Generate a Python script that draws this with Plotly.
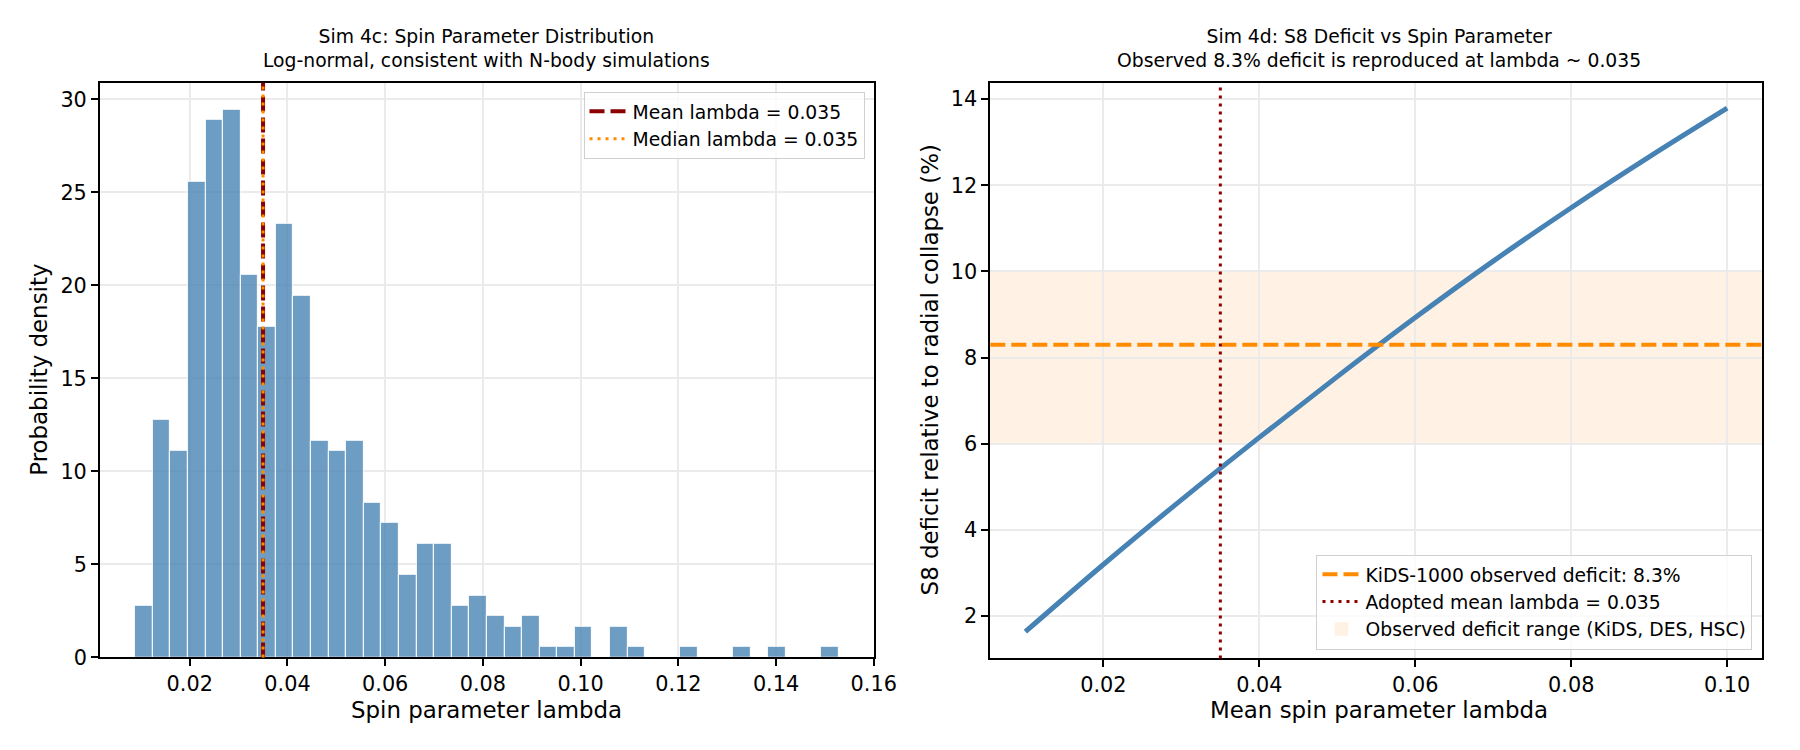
import plotly.graph_objects as go

# --- left panel: histogram of spin parameter (bin centres + density)
bin_centers = [0.0106, 0.0142, 0.0178, 0.0214, 0.0250, 0.0286, 0.0322, 0.0358, 0.0394, 0.0430,
               0.0466, 0.0502, 0.0538, 0.0574, 0.0610, 0.0646, 0.0682, 0.0718, 0.0754, 0.0790,
               0.0826, 0.0862, 0.0898, 0.0934, 0.0970, 0.1006, 0.1042, 0.1078, 0.1114, 0.1150,
               0.1186, 0.1222, 0.1258, 0.1294, 0.1330, 0.1366, 0.1402, 0.1438, 0.1474, 0.1510]
density = [2.78, 12.78, 11.11, 25.56, 28.89, 29.44, 20.56, 17.78, 23.33, 19.44,
           11.67, 11.11, 11.67, 8.33, 7.22, 4.44, 6.11, 6.11, 2.78, 3.33,
           2.22, 1.67, 2.22, 0.56, 0.56, 1.67, 0.0, 1.67, 0.56, 0.0,
           0.0, 0.56, 0.0, 0.0, 0.56, 0.0, 0.56, 0.0, 0.0, 0.56]
bin_width = 0.0036
mean_lambda = 0.035
median_lambda = 0.035

hist_xticks = [0.02, 0.04, 0.06, 0.08, 0.10, 0.12, 0.14, 0.16]
hist_xlabels = ["0.02", "0.04", "0.06", "0.08", "0.10", "0.12", "0.14", "0.16"]
hist_yticks = [0, 5, 10, 15, 20, 25, 30]

# --- right panel: S8 deficit vs mean spin
mean_spin = [0.01, 0.02, 0.03, 0.04, 0.05, 0.06, 0.07, 0.08, 0.09, 0.10]
s8_deficit = [1.64, 3.20, 4.70, 6.15, 7.56, 8.93, 10.24, 11.48, 12.66, 13.79]
observed_deficit = 8.3
deficit_low, deficit_high = 6.0, 10.0
adopted_lambda = 0.035

curve_xticks = [0.02, 0.04, 0.06, 0.08, 0.10]
curve_xlabels = ["0.02", "0.04", "0.06", "0.08", "0.10"]
curve_yticks = [2, 4, 6, 8, 10, 12, 14]

FONT = "DejaVu Sans"
TICK_PX = 20.8
LABEL_PX = 22.9
SMALL_PX = 18.75
GRID = "#ebebeb"

fig = go.Figure()

fig.add_trace(go.Bar(
    x=bin_centers, y=density, width=bin_width,
    marker=dict(color="steelblue", line=dict(color="white", width=1)),
    opacity=0.78, showlegend=False, xaxis="x", yaxis="y",
))

fig.add_trace(go.Scatter(
    x=mean_spin, y=s8_deficit, mode="lines", line=dict(color="steelblue", width=5, shape="spline"),
    showlegend=False, xaxis="x2", yaxis="y2",
))

# vertical reference lines on the histogram
fig.add_shape(type="line", xref="x", yref="y domain", x0=mean_lambda, x1=mean_lambda, y0=0, y1=1,
              line=dict(color="darkred", width=4, dash="15px,6px"),
              showlegend=True, name=f"Mean lambda = {mean_lambda:.3f}", legend="legend", legendrank=1)
fig.add_shape(type="line", xref="x", yref="y domain", x0=median_lambda, x1=median_lambda, y0=0, y1=1,
              line=dict(color="darkorange", width=3, dash="3px,5px"),
              showlegend=True, name=f"Median lambda = {median_lambda:.3f}", legend="legend", legendrank=2)

# observed range band, KiDS line, adopted lambda
fig.add_shape(type="rect", xref="x2 domain", yref="y2", x0=0, x1=1, y0=deficit_low, y1=deficit_high,
              fillcolor="darkorange", opacity=0.1, line=dict(color="darkorange", width=1.5), layer="below",
              showlegend=True, name="Observed deficit range (KiDS, DES, HSC)", legend="legend2", legendrank=3)
fig.add_shape(type="line", xref="x2 domain", yref="y2", x0=0, x1=1, y0=observed_deficit, y1=observed_deficit,
              line=dict(color="darkorange", width=4, dash="15px,6px"),
              showlegend=True, name=f"KiDS-1000 observed deficit: {observed_deficit}%", legend="legend2", legendrank=1)
fig.add_shape(type="line", xref="x2", yref="y2 domain", x0=adopted_lambda, x1=adopted_lambda, y0=0, y1=1,
              line=dict(color="darkred", width=3, dash="3px,5px"),
              showlegend=True, name=f"Adopted mean lambda = {adopted_lambda:.3f}", legend="legend2", legendrank=2)

axis_style = dict(
    showline=True, linecolor="black", linewidth=1.7, mirror=True,
    ticks="outside", ticklen=7, tickwidth=1.7, tickcolor="black",
    showgrid=True, gridcolor=GRID, gridwidth=1.5, zeroline=False,
    tickfont=dict(family=FONT, size=TICK_PX, color="black"),
)

fig.update_layout(
    width=1800, height=750,
    margin=dict(l=0, r=0, t=0, b=0),
    paper_bgcolor="white", plot_bgcolor="white",
    font=dict(family=FONT, color="black"),
    bargap=0,
    xaxis=dict(domain=[0.0517, 0.4872], range=[0.0016, 0.16], tickvals=hist_xticks, ticktext=hist_xlabels,
               anchor="y", **axis_style),
    yaxis=dict(domain=[0.12, 0.8987], range=[0, 30.9], tickvals=hist_yticks, anchor="x", **axis_style),
    xaxis2=dict(domain=[0.5528, 0.9872], range=[0.0055, 0.1045], tickvals=curve_xticks, ticktext=curve_xlabels,
                anchor="y2", **axis_style),
    yaxis2=dict(domain=[0.1187, 0.8987], range=[1.02, 14.38], tickvals=curve_yticks, anchor="x2", **axis_style),
    legend=dict(x=0.482, xanchor="right", y=0.8867, yanchor="top", bgcolor="rgba(255,255,255,0.8)",
                bordercolor="#d0d0d0", borderwidth=1, itemwidth=38,
                font=dict(family=FONT, size=SMALL_PX, color="black")),
    legend2=dict(x=0.9817, xanchor="right", y=0.1307, yanchor="bottom", bgcolor="rgba(255,255,255,0.8)",
                 bordercolor="#d0d0d0", borderwidth=1, itemwidth=38,
                 font=dict(family=FONT, size=SMALL_PX, color="black")),
)

titles = [
    (0.2694, "Sim 4c: Spin Parameter Distribution<br>Log-normal, consistent with N-body simulations"),
    (0.7717, "Sim 4d: S8 Deficit vs Spin Parameter<br>Observed 8.3% deficit is reproduced at lambda ~ 0.035"),
]
for x, text in titles:
    fig.add_annotation(x=x, y=0.912, xref="paper", yref="paper", xanchor="center", yanchor="bottom",
                       text=text, showarrow=False, font=dict(family=FONT, size=SMALL_PX, color="black"))

axis_titles = [
    (0.2694, 0.0493, 0, "Spin parameter lambda"),
    (0.7717, 0.0493, 0, "Mean spin parameter lambda"),
    (0.0178, 0.5093, -90, "Probability density"),
    (0.519, 0.5093, -90, "S8 deficit relative to radial collapse (%)"),
]
for x, y, angle, text in axis_titles:
    fig.add_annotation(x=x, y=y, xref="paper", yref="paper", xanchor="center", yanchor="middle",
                       text=text, textangle=angle, showarrow=False,
                       font=dict(family=FONT, size=LABEL_PX, color="black"))

fig.write_html("out.html")
